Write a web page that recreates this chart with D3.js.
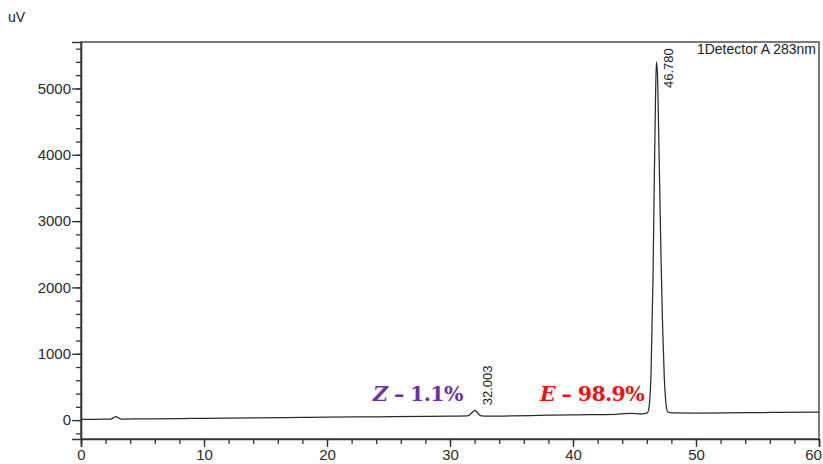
<!DOCTYPE html>
<html>
<head>
<meta charset="utf-8">
<script src="https://cdn.jsdelivr.net/npm/d3@7"></script>
<style>
  body { margin: 0; background: #fff; }
  svg { display: block; }
  .tick text { font-family: "Liberation Sans", Arial, sans-serif; font-size: 15px; fill: #2a2a2a; }
</style>
</head>
<body>
<svg id="chart" width="823" height="464"></svg>
<script>
// retention time (min) and detector signal (uV)
var times = [0, 1, 2, 2.4, 2.6, 2.75, 2.85, 3.0, 3.2, 3.5, 5, 8, 10, 14, 18, 20, 24, 28, 30, 31.4, 31.7, 31.9, 32.0, 32.15, 32.35, 32.6, 33, 35, 38, 40, 43.5, 44.2, 44.8, 45.4, 45.8, 46.05,
             46.2, 46.35, 46.5, 46.6, 46.7, 46.78, 46.86, 46.95, 47.05, 47.15, 47.28, 47.42, 47.56, 47.7, 48.0, 50, 54, 57, 60];
var signal = [12, 12, 13, 16, 30, 50, 54, 36, 20, 16, 18, 22, 26, 32, 40, 44, 50, 56, 60, 64, 95, 135, 148, 130, 85, 62, 58, 64, 74, 80, 88, 98, 100, 92, 96, 110,
              220, 750, 2100, 3500, 4750, 5400, 5250, 4500, 3500, 2500, 1450, 650, 250, 125, 108, 106, 112, 116, 120];

var xTicks = [0, 10, 20, 30, 40, 50, 60];
var yTicks = [0, 1000, 2000, 3000, 4000, 5000];

var peakTimes = ["32.003", "46.780"];
var peakHeights = [148, 5400];

var width = 823, height = 464;
var margin = {top: 42, right: 4, bottom: 25, left: 81};

var svg = d3.select("#chart");

var x = d3.scaleLinear().domain([0, 60]).range([margin.left, width - margin.right]);
var y = d3.scaleLinear().domain([-285, 5700]).range([height - margin.bottom, margin.top]);

var ink = "#333";

// frame
svg.append("rect")
    .attr("x", x(0)).attr("y", y(5700))
    .attr("width", x(60) - x(0)).attr("height", y(-285) - y(5700))
    .attr("fill", "none").attr("stroke", ink).attr("stroke-width", 1.3);

// x axis, minor then major
svg.append("g")
    .attr("transform", "translate(0," + y(-285) + ")")
    .call(d3.axisBottom(x).tickValues(d3.range(0, 61, 2)).tickSize(5).tickFormat(""))
    .call(function(g) { g.select(".domain").remove(); });
var gx = svg.append("g")
    .attr("transform", "translate(0," + y(-285) + ")")
    .call(d3.axisBottom(x).tickValues(xTicks).tickSize(8).tickPadding(2).tickFormat(d3.format("d")));
gx.select(".domain").attr("stroke", ink).attr("stroke-width", 1.6);
// keep the last label inside the window
gx.selectAll(".tick text").filter(function(d) { return d === 60; }).attr("dx", -6);

// y axis
svg.append("g")
    .attr("transform", "translate(" + x(0) + ",0)")
    .call(d3.axisLeft(y).tickValues(d3.range(-200, 5700, 200)).tickSize(5).tickFormat(""))
    .call(function(g) { g.select(".domain").remove(); });
var gy = svg.append("g")
    .attr("transform", "translate(" + x(0) + ",0)")
    .call(d3.axisLeft(y).tickValues(yTicks).tickSize(9).tickPadding(1).tickFormat(d3.format("d")));
gy.select(".domain").attr("stroke", ink).attr("stroke-width", 1.6);

svg.selectAll(".tick line").attr("stroke", ink).attr("stroke-width", 1.3);

// trace
var line = d3.line()
    .x(function(d, i) { return x(times[i]); })
    .y(function(d) { return y(d); })
    .curve(d3.curveMonotoneX);

svg.append("path")
    .datum(signal)
    .attr("d", line)
    .attr("fill", "none")
    .attr("stroke", "#2b2b2b")
    .attr("stroke-width", 1.25);

// peak labels, rotated; kept below the top frame
peakTimes.forEach(function(t, i) {
    var px = x(+t) + 17, py = Math.max(y(peakHeights[i]) - 5, margin.top + 46);
    svg.append("text")
        .attr("transform", "translate(" + px + "," + py + ") rotate(-90)")
        .attr("font-family", "Liberation Sans, Arial, sans-serif")
        .attr("font-size", 13)
        .attr("fill", "#222")
        .text(t);
});

svg.append("text")
    .attr("x", 816).attr("y", 54)
    .attr("text-anchor", "end")
    .attr("font-family", "Liberation Sans, Arial, sans-serif")
    .attr("font-size", 14)
    .attr("fill", "#222")
    .text("1Detector A 283nm");

svg.append("text")
    .attr("x", 8).attr("y", 22)
    .attr("font-family", "Liberation Sans, Arial, sans-serif")
    .attr("font-size", 14)
    .attr("fill", "#222")
    .text("uV");

// isomer ratios
function ratio(letter, rest, tx, ty, color) {
    var t = svg.append("text")
        .attr("x", tx).attr("y", ty)
        .attr("font-family", "DejaVu Serif, Liberation Serif, serif")
        .attr("font-weight", "bold")
        .attr("font-size", 20.5)
        .attr("letter-spacing", -0.6)
        .attr("fill", color);
    t.append("tspan").attr("font-style", "italic").text(letter);
    t.append("tspan").text(rest);
}
ratio("Z", " \u2013 1.1%", 373, 401, "#7030a0");
ratio("E", " \u2013 98.9%", 540, 401, "#ee1111");
</script>
</body>
</html>
